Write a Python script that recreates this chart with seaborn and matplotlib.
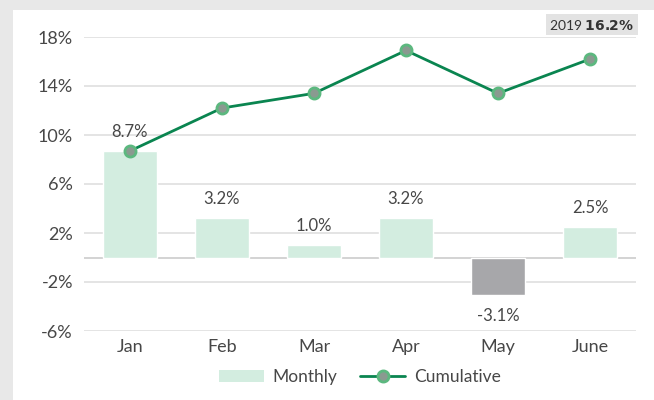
import numpy as np
import matplotlib.pyplot as plt
import seaborn as sns
from matplotlib.patches import Patch
from matplotlib.lines import Line2D

months = ['Jan', 'Feb', 'Mar', 'Apr', 'May', 'June']
monthly = [8.7, 3.2, 1.0, 3.2, -3.1, 2.5]
cumulative = [8.7, 12.2, 13.4, 16.9, 13.4, 16.2]
yticks = [-6, -2, 2, 6, 10, 14, 18]

bar_green = '#d3ede0'
bar_gray = '#a7a7aa'
line_green = '#0a8550'
text_col = '#474747'

sns.set_style('white')
plt.rcParams['font.family'] = ['Lato', 'DejaVu Sans']

fig = plt.figure(figsize=(6.54, 4.0), dpi=100, facecolor='#e8e8e8')
# white card behind the chart
fig.patches.append(plt.Rectangle((13 / 654, 0), 1, 390 / 400, transform=fig.transFigure,
                                 facecolor='white', edgecolor='none', zorder=-10))
ax = fig.add_axes([84 / 654, 69 / 400, 552 / 654, 294 / 400])
ax.set_facecolor('none')

colors = [bar_green if v >= 0 else bar_gray for v in monthly]
sns.barplot(x=months, y=monthly, hue=months, palette=colors, legend=False,
            width=0.59, ax=ax, zorder=2, saturation=1)
x = np.arange(len(months))
sns.lineplot(x=x, y=cumulative, ax=ax, color=line_green, linewidth=2, zorder=3,
             marker='o', markersize=8, markerfacecolor='#8a9a90',
             markeredgecolor='#5cb87f', markeredgewidth=2)

for xi, v in zip(x, monthly):
    off = 0.9 if v >= 0 else -1.0
    ax.text(xi, v + off, f'{v:.1f}%', ha='center', va='bottom' if v >= 0 else 'top',
            fontsize=12, color=text_col, zorder=4)

ax.set_ylim(-6, 18)
ax.set_xlim(-0.5, 5.5)
ax.set_yticks(yticks)
ax.set_yticklabels([f'{t}%' for t in yticks])
ax.grid(axis='y', color='#e4e4e4', linewidth=1.4, zorder=0)
ax.set_axisbelow(True)
ax.axhline(0, color='#cccccc', linewidth=1.2, zorder=1)
for s in ax.spines.values():
    s.set_visible(False)
ax.tick_params(axis='both', length=0, labelsize=13, colors=text_col)
ax.tick_params(axis='y', pad=8)
ax.tick_params(axis='x', pad=6)
ax.set_xlabel('')
ax.set_ylabel('')

ax.text(0.997, 1.041, '2019 $\\bf{16.2\\%}$', transform=ax.transAxes, ha='right', va='center',
        fontsize=10, color='#333333',
        bbox=dict(boxstyle='square,pad=0.25', facecolor='#e3e3e3', edgecolor='none'))

handles = [Patch(facecolor=bar_green, edgecolor='none', label='Monthly'),
           Line2D([0], [0], color=line_green, linewidth=2, marker='o', markersize=8,
                  markerfacecolor='#8a9a90', markeredgecolor='#5cb87f',
                  markeredgewidth=2, label='Cumulative')]
ax.legend(handles=handles, loc='center', bbox_to_anchor=(0.5, -46 / 294), ncol=2,
          frameon=False, fontsize=12.5, labelcolor=text_col, handlelength=2.6,
          handleheight=0.7, columnspacing=1.3, handletextpad=0.5)

fig.savefig('out.png', dpi=100, facecolor=fig.get_facecolor())
